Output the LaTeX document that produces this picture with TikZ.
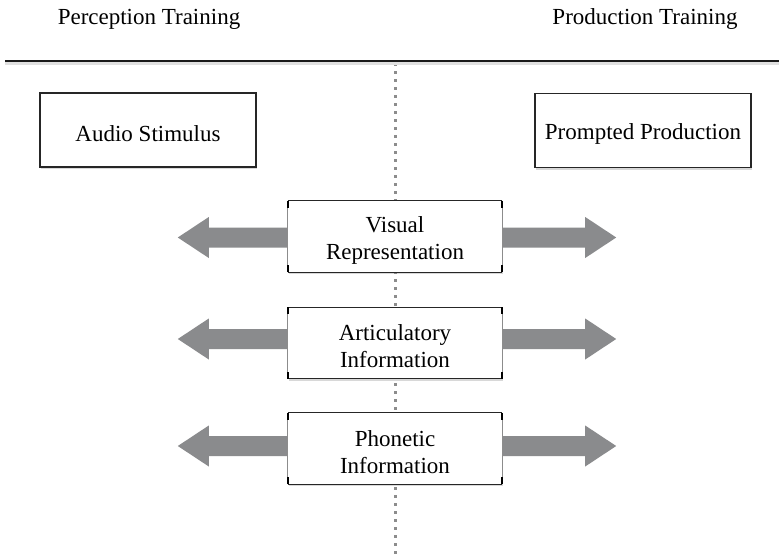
\documentclass[tikz,border=0pt]{standalone}
\usepackage{fontspec}
\setmainfont{Liberation Serif}
\usetikzlibrary{shadows,calc}
\definecolor{arrowgray}{HTML}{8A8B8D}
\definecolor{dotgray}{HTML}{8C8C8C}
\begin{document}
\begin{tikzpicture}[x=1pt,y=-1pt,
  lbl/.style={font=\fontsize{23}{27}\selectfont, align=center},
  topbox/.style={draw=black!85, line width=1.3pt, fill=white, minimum width=216pt, minimum height=74pt, inner sep=0pt,
    drop shadow={shadow xshift=0.5pt, shadow yshift=-2pt, opacity=0.3}},
  midbox/.style={draw=none, fill=white, minimum width=214pt, minimum height=71pt, inner sep=0pt,
    drop shadow={shadow xshift=0.5pt, shadow yshift=-2pt, opacity=0.3}},
  boxtext/.style={lbl, yshift=-3.5pt},
  arrowbody/.style={fill=arrowgray},
  dotline/.style={draw=dotgray, line width=3pt, dash pattern=on 3pt off 5pt},
]
\useasboundingbox (0,0) rectangle (779,554);
\fill[white] (0,0) rectangle (779,554);

% headers
\node[lbl, anchor=base] (perc) at (149,24) {Perception Training};
\node[lbl, anchor=base] (prod) at (645,24) {Production Training};

% vertical dotted line
\coordinate (vtop) at (395,63);
\coordinate (vbot) at (395,554);
\draw[dotline] (vtop) -- (vbot);

% horizontal rule with shadow
\coordinate (hl) at (5,61);
\coordinate (hr) at (779,61);
\draw[black!12, line width=3pt] ($(hl)+(0,2.5)$) -- ($(hr)+(0,2.5)$);
\draw[black!90, line width=2.2pt] (hl) -- (hr);

% top boxes
\node[topbox, label={[boxtext]center:Audio Stimulus}] (audio) at (148,130) {};
\node[topbox, label={[boxtext]center:Prompted Production}] (prompt) at (643,130.5) {};

% arrow centres
\coordinate (vc) at (395,237.5);
\coordinate (ac) at (395,339);
\coordinate (pc) at (395,446);

% middle boxes
\node[midbox, label={[boxtext]center:Visual\\Representation}] (v) at (395,236.5) {};
\node[midbox, label={[boxtext]center:Articulatory\\Information}] (a) at (395,343) {};
\node[midbox, label={[boxtext]center:Phonetic\\Information}] (p) at (395,448.5) {};

\foreach \n in {v,a,p} {
  \fill[arrowbody] ($(\n.west |- \n c)+(0,-10)$) -- ++(-79,0) -- ++(0,-10.5) -- ++(-31,20.5) -- ++(31,20.5) -- ++(0,-10.5) -- ($(\n.west |- \n c)+(0,10)$) -- cycle;
  \fill[arrowbody] ($(\n.east |- \n c)+(0,-10)$) -- ++(83,0) -- ++(0,-10.5) -- ++(31,20.5) -- ++(-31,20.5) -- ++(0,-10.5) -- ($(\n.east |- \n c)+(0,10)$) -- cycle;
  \draw[black!45, line width=0.8pt] (\n.north west) -- (\n.south west) (\n.north east) -- (\n.south east);
  \draw[black!85, line width=1.2pt] (\n.north west) -- (\n.north east) (\n.south west) -- (\n.south east);
  \draw[black, line width=1.5pt] (\n.north west) -- ++(0,7) (\n.north east) -- ++(0,7)
        (\n.south west) -- ++(0,-7) (\n.south east) -- ++(0,-7);
}
\end{tikzpicture}
\end{document}
